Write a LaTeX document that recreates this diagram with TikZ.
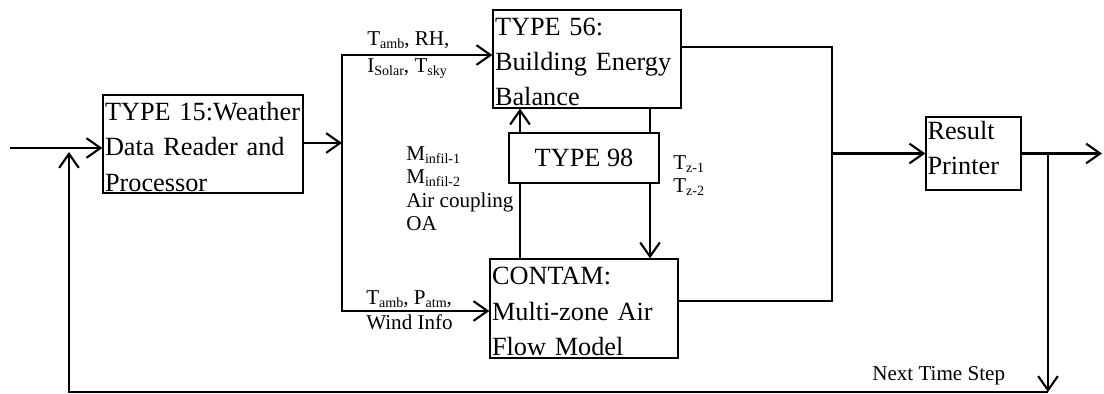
\documentclass[tikz,border=0pt]{standalone}
\usepackage{fontspec}
\setmainfont{Liberation Serif}
\usetikzlibrary{arrows.meta}

\newcommand{\boxfont}{\fontsize{18.7}{25}\selectfont}
\newcommand{\labfont}{\fontsize{15}{15.6}\selectfont}
\newcommand{\sbs}[1]{\raisebox{-1.5pt}{\fontsize{10}{10}\selectfont #1}}

\begin{document}
\begin{tikzpicture}[
    block/.style={draw, line width=0.9pt, rectangle, align=left, inner sep=1pt, font=\boxfont},
    tall/.style={text depth=46pt},
    arrow/.style={-{Straight Barb[length=10pt,width=14pt]}, line width=1.5pt},
    link/.style={line width=1.5pt},
    wire/.style={line width=0.9pt},
    label/.style={font=\labfont, inner sep=0pt, anchor=base west}
]
\useasboundingbox (0,0) rectangle (27.6,9.85);

% Blocks
\node[block, tall, minimum width=5.0cm, minimum height=2.45cm, text width=4.9cm] (weather) at (5.075, 6.25)
    {TYPE 15:Weather\\Data Reader and\\Processor};
\node[block, tall, minimum width=4.7cm, minimum height=2.45cm, text width=4.6cm] (building) at (14.675, 8.375)
    {TYPE 56:\\Building Energy\\Balance};
\node[block, minimum width=3.75cm, minimum height=1.25cm] (type98) at (14.6, 5.9) {TYPE 98};
\node[block, tall, minimum width=4.7cm, minimum height=2.475cm, text width=4.6cm] (contam) at (14.6, 2.1375)
    {CONTAM:\\Multi-zone Air\\Flow Model};
\node[block, text depth=33pt, minimum width=2.375cm, minimum height=1.825cm, text width=2.3cm] (result) at (24.3375, 6.0125)
    {Result\\Printer};

% Weather input and split
\coordinate (start) at (0.25, 6.15);
\draw[arrow] (start) -- (start -| weather.west);
\coordinate (split) at (8.55, 6.275);
\draw[arrow] (weather.east |- split) -- (split);
\coordinate (upper) at (8.55, 8.475);
\coordinate (lower) at (8.55, 2.075);
\draw[arrow] (lower) -- (upper) -- (upper -| building.west);
\draw[arrow] (upper) -- (lower) -- (lower -| contam.west);
\node[label] (tin) at (9.175, 8.7) {T\sbs{amb}, RH,};
\node[label] (sin) at (9.175, 8.025) {I\sbs{Solar}, T\sbs{sky}};
\node[label] (pin) at (9.15, 2.225) {T\sbs{amb}, P\sbs{atm},};
\node[label] (win) at (9.15, 1.6) {Wind Info};

% Coupling through TYPE 98
\coordinate (lx) at (13.0, 0);
\coordinate (rx) at (16.25, 0);
\draw[link] (contam.north -| lx) -- (type98.south -| lx);
\draw[arrow] (type98.north -| lx) -- (building.south -| lx);
\draw[link] (building.south -| rx) -- (type98.north -| rx);
\draw[arrow] (type98.south -| rx) -- (contam.north -| rx);
\node[label] (infil1) at (10.15, 5.825) {M\sbs{infil-1}};
\node[label] (infil2) at (10.15, 5.25) {M\sbs{infil-2}};
\node[label] (coupling) at (10.15, 4.65) {Air coupling};
\node[label] (oa) at (10.15, 4.075) {OA};
\node[label] (tz1) at (16.825, 5.6) {T\sbs{z-1}};
\node[label] (tz2) at (16.825, 5.025) {T\sbs{z-2}};

% Outputs to printer
\coordinate (ne) at (20.8, 8.675);
\coordinate (se) at (20.8, 2.325);
\draw[wire] (building.east |- ne) -- (ne) -- (se) -- (contam.east |- se);
\draw[arrow] (ne |- result) -- (result.west);
\coordinate (outlet) at (27.55, 6.0125);
\draw[arrow] (result.east) -- (outlet);

% Loop back
\coordinate (tap) at (26.2, 6.0125);
\coordinate (floor) at (26.2, 0.05);
\coordinate (corner) at (1.725, 0.05);
\coordinate (rise) at (1.725, 6.05);
\draw[arrow] (tap) -- (floor);
\draw[arrow] (floor) -- (corner) -- (rise);
\node[label] (next) at (21.8, 0.325) {Next Time Step};

\end{tikzpicture}
\end{document}
